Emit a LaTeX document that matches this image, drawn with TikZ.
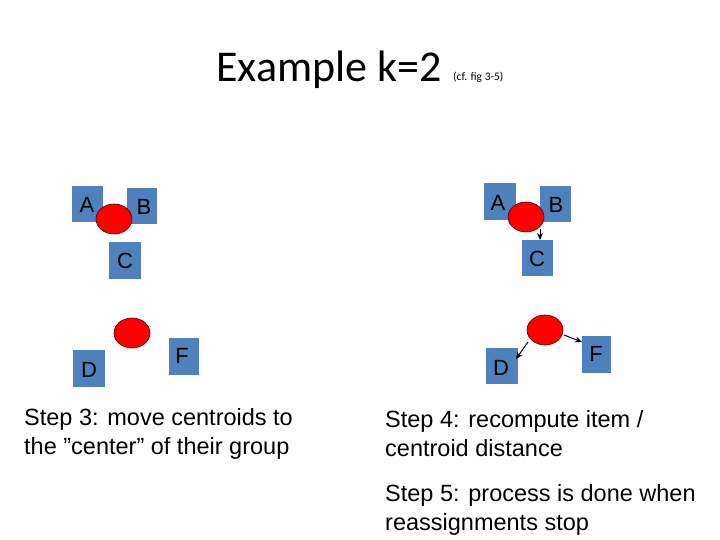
\documentclass[tikz,border=0pt]{standalone}
\usepackage{fontspec}
\usetikzlibrary{shapes.geometric,arrows.meta}
\setmainfont{Liberation Sans}
\newfontfamily\carlitofont{Carlito}
\begin{document}
\begin{tikzpicture}[x=1pt,y=-1pt,
 cen/.style={ellipse,fill=red,draw=black!70!red,line width=0.6pt,minimum width=36pt,minimum height=30pt,inner sep=0pt},
 lt/.style={font=\fontsize{22}{22}\selectfont},
 lab/.style={font=\fontsize{23.5}{29}\selectfont,anchor=base west,inner sep=0pt},
 arr/.style={-{Stealth[length=7pt,width=6pt]},line width=1pt}]
\definecolor{sqblue}{HTML}{4F81BD}
\useasboundingbox (0,0) rectangle (720,540);
% left group
\fill[sqblue] (72,186) rectangle (103,222); \node[lt] (lA) at (87,205) {A};
\fill[sqblue] (127,188) rectangle (157,224); \node[lt] (lB) at (144,207) {B};
\fill[sqblue] (109,242) rectangle (141,279); \node[lt] (lC) at (125,261) {C};
\fill[sqblue] (73,350) rectangle (105,387); \node[lt] (lD) at (89,370) {D};
\fill[sqblue] (169,338) rectangle (199,375); \node[lt] (lF) at (182,356) {F};
\node[cen] (lc1) at (114,219) {};
\node[cen] (lc2) at (132,333) {};
% right group
\fill[sqblue] (484,183) rectangle (516,220); \node[lt] (rA) at (498,203) {A};
\fill[sqblue] (540,186) rectangle (571,222); \node[lt] (rB) at (556,205) {B};
\fill[sqblue] (522,240) rectangle (553,276); \node[lt] (rC) at (537,259) {C};
\fill[sqblue] (486,348) rectangle (518,384); \node[lt] (rD) at (501,368) {D};
\fill[sqblue] (582,336) rectangle (611,373); \node[lt] (rF) at (596,354) {F};
\node[cen] (rc1) at (526,217) {};
\node[cen] (rc2) at (545,330) {};
\coordinate (rCs) at (540,229);
\coordinate (rCt) at (540,240);
\coordinate (rDs) at (528,342);
\coordinate (rDt) at (516,359);
\coordinate (rFs) at (564,335);
\coordinate (rFt) at (582,342);
\draw[arr] (rCs) -- (rCt);
\draw[arr] (rDs) -- (rDt);
\draw[arr] (rFs) -- (rFt);
% title
\node[anchor=base,font=\carlitofont\fontsize{44}{44}\selectfont,inner sep=0] (title) at (329,82) {Example k=2};
\node[anchor=base west,font=\carlitofont\fontsize{11.5}{11.5}\selectfont,inner sep=0] (cf) at (453,81) {(cf. fig 3-5)};
% texts
\node[lab] (s3a) at (24,425) {Step 3: move centroids to};
\node[lab] (s3b) at (24,454) {the \symbol{34}center\symbol{34} of their group};
\node[lab] (s4a) at (385,427) {Step 4: recompute item /};
\node[lab] (s4b) at (385,456) {centroid distance};
\node[lab] (s5a) at (385,501) {Step 5: process is done when};
\node[lab] (s5b) at (385,530) {reassignments stop};
\end{tikzpicture}
\end{document}
